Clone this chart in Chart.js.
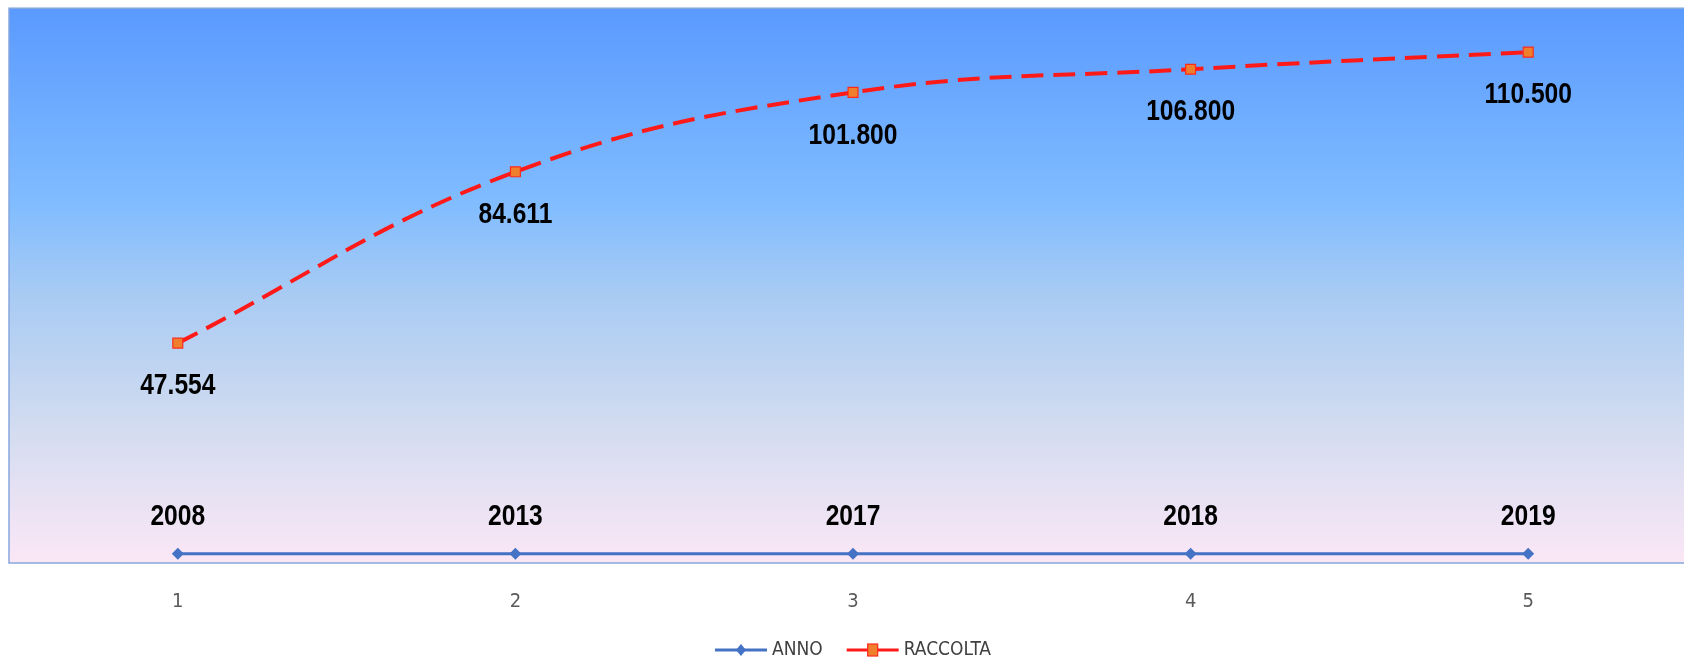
<!DOCTYPE html>
<html>
<head>
<meta charset="utf-8">
<script src="https://cdn.jsdelivr.net/npm/chart.js@4"></script>
<style>
  html, body { margin: 0; padding: 0; background: #fff; overflow: hidden; }
  #wrap { width: 1706px; height: 660px; }
</style>
</head>
<body>
<div id="wrap"><canvas id="myChart" width="1706" height="660"></canvas></div>
<script>
// data
const categories = ['1', '2', '3', '4', '5'];
const anno = [2008, 2013, 2017, 2018, 2019];
const raccolta = [47554, 84611, 101800, 106800, 110500];
const yMax = 120000;

const FONT = '"Liberation Sans Narrow", "DejaVu Sans Condensed", "Liberation Sans", sans-serif';
const LABEL_FONT = '"Liberation Sans", Arial, sans-serif';

const BLUE = '#4472C4';
const RED = '#FF1A1A';
const ORANGE = '#F07F2D';

// italian thousands separator
function fmt(v) {
  return String(v).replace(/\B(?=(\d{3})+(?!\d))/g, '.');
}

const bgPlugin = {
  id: 'bg',
  beforeDraw(chart) {
    const a = chart.chartArea, ctx = chart.ctx;
    const grad = ctx.createLinearGradient(0, a.top, 0, a.bottom);
    grad.addColorStop(0, '#5A9AFF');
    grad.addColorStop(0.35, '#80BCFF');
    grad.addColorStop(0.52, '#A9CBF3');
    grad.addColorStop(0.76, '#D3DCF0');
    grad.addColorStop(1, '#FBE7F6');
    ctx.save();
    ctx.fillStyle = grad;
    ctx.fillRect(a.left, a.top, a.right - a.left, a.bottom - a.top);
    ctx.strokeStyle = '#86A6DE';
    ctx.lineWidth = 1.5;
    ctx.strokeRect(a.left, a.top, a.right - a.left, a.bottom - a.top);
    ctx.restore();
  }
};

const labelPlugin = {
  id: 'valueLabels',
  afterDatasetsDraw(chart) {
    const ctx = chart.ctx;
    chart.data.datasets.forEach(function(ds, i) {
      const meta = chart.getDatasetMeta(i);
      meta.data.forEach(function(pt, j) {
        const dy = ds.label === 'ANNO' ? -37 : 43;
        const txt = ds.label === 'ANNO' ? String(ds.data[j]) : fmt(ds.data[j]);
        ctx.save();
        ctx.translate(pt.x, pt.y + dy);
        ctx.scale(0.82, 1); // narrow look
        ctx.font = 'bold 30px ' + LABEL_FONT;
        ctx.fillStyle = '#000';
        ctx.textAlign = 'center';
        ctx.textBaseline = 'middle';
        ctx.fillText(txt, 0, 0);
        ctx.restore();
      });
    });
  }
};

// legend: line sample with marker, like the office one
const legendPlugin = {
  id: 'lineLegend',
  afterDraw(chart) {
    const ctx = chart.ctx;
    const y = 650;
    const lineW = 52, textGap = 5, itemGap = 24;
    ctx.save();
    ctx.font = '19px ' + FONT;
    const items = chart.data.datasets.map(function(ds) {
      return { text: ds.label, w: ctx.measureText(ds.label).width };
    });
    let total = 0;
    items.forEach(function(it, i) { total += lineW + textGap + it.w + (i ? itemGap : 0); });
    let x = chart.width / 2 - total / 2;
    items.forEach(function(it, i) {
      const ds = chart.data.datasets[i];
      ctx.strokeStyle = ds.borderColor;
      ctx.lineWidth = 3;
      ctx.setLineDash([]);
      ctx.beginPath(); ctx.moveTo(x, y); ctx.lineTo(x + lineW, y); ctx.stroke();
      const mx = x + lineW / 2;
      if (ds.pointStyle === 'rectRot') {
        ctx.fillStyle = ds.borderColor;
        ctx.beginPath(); ctx.moveTo(mx, y - 6); ctx.lineTo(mx + 5, y); ctx.lineTo(mx, y + 6); ctx.lineTo(mx - 5, y); ctx.closePath(); ctx.fill();
      } else {
        ctx.fillStyle = ds.backgroundColor;
        ctx.fillRect(mx - 5, y - 6, 10, 12);
        ctx.strokeStyle = ds.pointBorderColor;
        ctx.lineWidth = 1.2;
        ctx.strokeRect(mx - 5, y - 6, 10, 12);
      }
      ctx.fillStyle = '#404040';
      ctx.textAlign = 'left';
      ctx.textBaseline = 'middle';
      ctx.fillText(it.text, x + lineW + textGap, y);
      x += lineW + textGap + it.w + itemGap;
    });
    ctx.restore();
  }
};

const ctx = document.getElementById('myChart').getContext('2d');
const myChart = new Chart(ctx, {
  type: 'line',
  data: {
    labels: categories,
    datasets: [{
      label: 'ANNO',
      data: anno,
      borderColor: BLUE,
      backgroundColor: BLUE,
      borderWidth: 3,
      pointStyle: 'rectRot',
      pointRadius: 6,
      pointBorderWidth: 0,
      tension: 0
    }, {
      label: 'RACCOLTA',
      data: raccolta,
      borderColor: RED,
      backgroundColor: ORANGE,
      borderWidth: 4,
      borderDash: [22, 10],
      pointStyle: 'rect',
      pointRadius: 7,
      pointBorderColor: '#FF2A1A',
      pointBorderWidth: 1.2,
      tension: 0.4
    }]
  },
  options: {
    responsive: false,
    animation: false,
    layout: { padding: { left: 9, right: 9, top: 8, bottom: 19 } },
    scales: {
      x: {
        offset: true,
        grid: { display: false, drawTicks: false },
        border: { display: false },
        ticks: { color: '#595959', font: { family: FONT, size: 20 }, padding: 27 }
      },
      y: {
        display: false,
        min: 0,
        max: yMax
      }
    },
    plugins: {
      tooltip: { enabled: false },
      legend: { display: false }
    }
  },
  plugins: [bgPlugin, labelPlugin, legendPlugin]
});
</script>
</body>
</html>
